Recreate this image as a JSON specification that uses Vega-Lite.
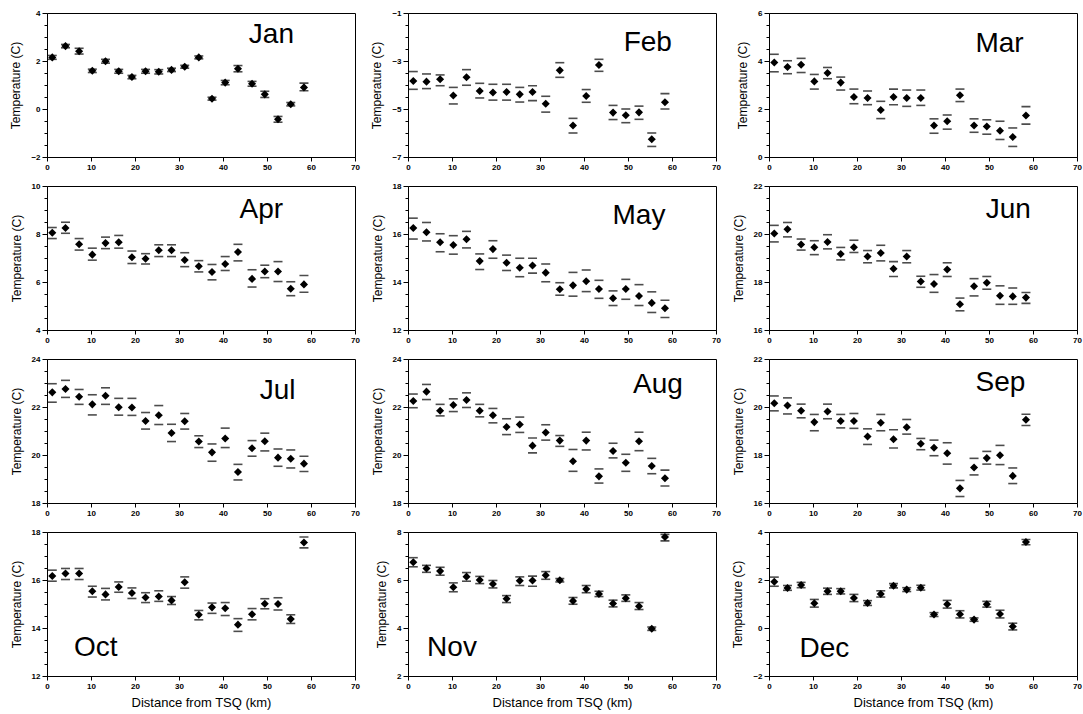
{
"$schema":"https://vega.github.io/schema/vega-lite/v6.json",
"background":"white",
"padding":{"left":9,"top":8,"right":2,"bottom":2},
"datasets":{"obs":[
{"m":"Jan","d":1.2,"t":2.15,"lo":2.07,"hi":2.23},{"m":"Jan","d":4.2,"t":2.62,"lo":2.55,"hi":2.69},{"m":"Jan","d":7.3,"t":2.41,"lo":2.29,"hi":2.53},{"m":"Jan","d":10.3,"t":1.59,"lo":1.52,"hi":1.66},{"m":"Jan","d":13.3,"t":1.99,"lo":1.91,"hi":2.07},{"m":"Jan","d":16.3,"t":1.57,"lo":1.49,"hi":1.65},{"m":"Jan","d":19.3,"t":1.33,"lo":1.26,"hi":1.40},{"m":"Jan","d":22.4,"t":1.57,"lo":1.49,"hi":1.65},{"m":"Jan","d":25.4,"t":1.55,"lo":1.46,"hi":1.64},{"m":"Jan","d":28.3,"t":1.63,"lo":1.56,"hi":1.70},{"m":"Jan","d":31.3,"t":1.76,"lo":1.70,"hi":1.82},{"m":"Jan","d":34.5,"t":2.15,"lo":2.09,"hi":2.21},{"m":"Jan","d":37.5,"t":0.43,"lo":0.37,"hi":0.49},{"m":"Jan","d":40.5,"t":1.10,"lo":1.01,"hi":1.19},{"m":"Jan","d":43.4,"t":1.68,"lo":1.55,"hi":1.81},{"m":"Jan","d":46.6,"t":1.05,"lo":0.95,"hi":1.15},{"m":"Jan","d":49.5,"t":0.61,"lo":0.48,"hi":0.74},{"m":"Jan","d":52.5,"t":-0.43,"lo":-0.55,"hi":-0.31},{"m":"Jan","d":55.4,"t":0.20,"lo":0.13,"hi":0.27},{"m":"Jan","d":58.4,"t":0.90,"lo":0.76,"hi":1.08},
{"m":"Feb","d":1.2,"t":-3.83,"lo":-4.18,"hi":-3.44},{"m":"Feb","d":4.2,"t":-3.86,"lo":-4.15,"hi":-3.54},{"m":"Feb","d":7.3,"t":-3.76,"lo":-4.03,"hi":-3.58},{"m":"Feb","d":10.3,"t":-4.44,"lo":-4.79,"hi":-4.10},{"m":"Feb","d":13.3,"t":-3.68,"lo":-4.01,"hi":-3.36},{"m":"Feb","d":16.3,"t":-4.25,"lo":-4.54,"hi":-3.93},{"m":"Feb","d":19.3,"t":-4.31,"lo":-4.63,"hi":-3.97},{"m":"Feb","d":22.4,"t":-4.29,"lo":-4.63,"hi":-3.97},{"m":"Feb","d":25.4,"t":-4.39,"lo":-4.71,"hi":-4.10},{"m":"Feb","d":28.3,"t":-4.29,"lo":-4.65,"hi":-4.03},{"m":"Feb","d":31.3,"t":-4.78,"lo":-5.13,"hi":-4.47},{"m":"Feb","d":34.5,"t":-3.39,"lo":-3.68,"hi":-3.07},{"m":"Feb","d":37.5,"t":-5.69,"lo":-6.00,"hi":-5.39},{"m":"Feb","d":40.5,"t":-4.46,"lo":-4.72,"hi":-4.19},{"m":"Feb","d":43.4,"t":-3.17,"lo":-3.43,"hi":-2.93},{"m":"Feb","d":46.6,"t":-5.15,"lo":-5.44,"hi":-4.85},{"m":"Feb","d":49.5,"t":-5.26,"lo":-5.57,"hi":-5.00},{"m":"Feb","d":52.5,"t":-5.14,"lo":-5.43,"hi":-4.88},{"m":"Feb","d":55.4,"t":-6.26,"lo":-6.56,"hi":-6.00},{"m":"Feb","d":58.4,"t":-4.72,"lo":-5.00,"hi":-4.36},
{"m":"Mar","d":1.2,"t":3.94,"lo":3.55,"hi":4.28},{"m":"Mar","d":4.2,"t":3.75,"lo":3.47,"hi":4.01},{"m":"Mar","d":7.3,"t":3.84,"lo":3.52,"hi":4.11},{"m":"Mar","d":10.3,"t":3.15,"lo":2.83,"hi":3.44},{"m":"Mar","d":13.3,"t":3.50,"lo":3.26,"hi":3.73},{"m":"Mar","d":16.3,"t":3.10,"lo":2.79,"hi":3.33},{"m":"Mar","d":19.3,"t":2.50,"lo":2.22,"hi":2.83},{"m":"Mar","d":22.4,"t":2.46,"lo":2.18,"hi":2.75},{"m":"Mar","d":25.4,"t":1.96,"lo":1.60,"hi":2.32},{"m":"Mar","d":28.3,"t":2.50,"lo":2.18,"hi":2.83},{"m":"Mar","d":31.3,"t":2.46,"lo":2.11,"hi":2.79},{"m":"Mar","d":34.5,"t":2.46,"lo":2.15,"hi":2.79},{"m":"Mar","d":37.5,"t":1.31,"lo":0.99,"hi":1.59},{"m":"Mar","d":40.5,"t":1.49,"lo":1.16,"hi":1.75},{"m":"Mar","d":43.4,"t":2.57,"lo":2.31,"hi":2.83},{"m":"Mar","d":46.6,"t":1.31,"lo":1.03,"hi":1.59},{"m":"Mar","d":49.5,"t":1.27,"lo":0.95,"hi":1.55},{"m":"Mar","d":52.5,"t":1.09,"lo":0.73,"hi":1.49},{"m":"Mar","d":55.4,"t":0.83,"lo":0.44,"hi":1.21},{"m":"Mar","d":58.4,"t":1.73,"lo":1.37,"hi":2.10},
{"m":"Apr","d":1.2,"t":8.05,"lo":7.81,"hi":8.27},{"m":"Apr","d":4.2,"t":8.25,"lo":8.03,"hi":8.49},{"m":"Apr","d":7.3,"t":7.57,"lo":7.33,"hi":7.81},{"m":"Apr","d":10.3,"t":7.14,"lo":6.91,"hi":7.41},{"m":"Apr","d":13.3,"t":7.62,"lo":7.39,"hi":7.87},{"m":"Apr","d":16.3,"t":7.66,"lo":7.41,"hi":7.94},{"m":"Apr","d":19.3,"t":7.03,"lo":6.77,"hi":7.29},{"m":"Apr","d":22.4,"t":6.97,"lo":6.75,"hi":7.18},{"m":"Apr","d":25.4,"t":7.32,"lo":7.06,"hi":7.55},{"m":"Apr","d":28.3,"t":7.32,"lo":7.06,"hi":7.55},{"m":"Apr","d":31.3,"t":6.92,"lo":6.64,"hi":7.22},{"m":"Apr","d":34.5,"t":6.66,"lo":6.42,"hi":6.89},{"m":"Apr","d":37.5,"t":6.42,"lo":6.09,"hi":6.73},{"m":"Apr","d":40.5,"t":6.75,"lo":6.48,"hi":7.06},{"m":"Apr","d":43.4,"t":7.25,"lo":6.88,"hi":7.57},{"m":"Apr","d":46.6,"t":6.13,"lo":5.79,"hi":6.51},{"m":"Apr","d":49.5,"t":6.44,"lo":6.18,"hi":6.70},{"m":"Apr","d":52.5,"t":6.44,"lo":6.02,"hi":6.85},{"m":"Apr","d":55.4,"t":5.72,"lo":5.43,"hi":6.01},{"m":"Apr","d":58.4,"t":5.90,"lo":5.57,"hi":6.27},
{"m":"May","d":1.2,"t":16.25,"lo":15.79,"hi":16.66},{"m":"May","d":4.2,"t":16.07,"lo":15.71,"hi":16.48},{"m":"May","d":7.3,"t":15.66,"lo":15.26,"hi":16.01},{"m":"May","d":10.3,"t":15.54,"lo":15.16,"hi":15.93},{"m":"May","d":13.3,"t":15.78,"lo":15.42,"hi":16.11},{"m":"May","d":16.3,"t":14.87,"lo":14.52,"hi":15.17},{"m":"May","d":19.3,"t":15.37,"lo":14.99,"hi":15.72},{"m":"May","d":22.4,"t":14.80,"lo":14.48,"hi":15.12},{"m":"May","d":25.4,"t":14.59,"lo":14.22,"hi":14.99},{"m":"May","d":28.3,"t":14.69,"lo":14.37,"hi":14.99},{"m":"May","d":31.3,"t":14.39,"lo":14.01,"hi":14.75},{"m":"May","d":34.5,"t":13.70,"lo":13.45,"hi":13.97},{"m":"May","d":37.5,"t":13.86,"lo":13.41,"hi":14.40},{"m":"May","d":40.5,"t":14.03,"lo":13.60,"hi":14.50},{"m":"May","d":43.4,"t":13.71,"lo":13.32,"hi":14.07},{"m":"May","d":46.6,"t":13.32,"lo":13.02,"hi":13.63},{"m":"May","d":49.5,"t":13.71,"lo":13.28,"hi":14.11},{"m":"May","d":52.5,"t":13.42,"lo":13.02,"hi":13.89},{"m":"May","d":55.4,"t":13.13,"lo":12.73,"hi":13.59},{"m":"May","d":58.4,"t":12.91,"lo":12.52,"hi":13.24},
{"m":"Jun","d":1.2,"t":20.02,"lo":19.67,"hi":20.36},{"m":"Jun","d":4.2,"t":20.20,"lo":19.88,"hi":20.48},{"m":"Jun","d":7.3,"t":19.56,"lo":19.33,"hi":19.79},{"m":"Jun","d":10.3,"t":19.45,"lo":19.14,"hi":19.72},{"m":"Jun","d":13.3,"t":19.67,"lo":19.38,"hi":19.97},{"m":"Jun","d":16.3,"t":19.17,"lo":18.92,"hi":19.44},{"m":"Jun","d":19.3,"t":19.45,"lo":19.23,"hi":19.74},{"m":"Jun","d":22.4,"t":19.06,"lo":18.80,"hi":19.31},{"m":"Jun","d":25.4,"t":19.21,"lo":18.88,"hi":19.53},{"m":"Jun","d":28.3,"t":18.55,"lo":18.23,"hi":18.85},{"m":"Jun","d":31.3,"t":19.06,"lo":18.80,"hi":19.31},{"m":"Jun","d":34.5,"t":18.02,"lo":17.78,"hi":18.24},{"m":"Jun","d":37.5,"t":17.92,"lo":17.57,"hi":18.31},{"m":"Jun","d":40.5,"t":18.52,"lo":18.23,"hi":18.80},{"m":"Jun","d":43.4,"t":17.07,"lo":16.80,"hi":17.33},{"m":"Jun","d":46.6,"t":17.82,"lo":17.42,"hi":18.14},{"m":"Jun","d":49.5,"t":17.97,"lo":17.70,"hi":18.23},{"m":"Jun","d":52.5,"t":17.43,"lo":17.07,"hi":17.84},{"m":"Jun","d":55.4,"t":17.40,"lo":17.07,"hi":17.75},{"m":"Jun","d":58.4,"t":17.35,"lo":17.11,"hi":17.56},
{"m":"Jul","d":1.2,"t":22.61,"lo":22.20,"hi":22.97},{"m":"Jul","d":4.2,"t":22.75,"lo":22.40,"hi":23.11},{"m":"Jul","d":7.3,"t":22.43,"lo":22.11,"hi":22.73},{"m":"Jul","d":10.3,"t":22.11,"lo":21.67,"hi":22.51},{"m":"Jul","d":13.3,"t":22.47,"lo":22.11,"hi":22.80},{"m":"Jul","d":16.3,"t":21.99,"lo":21.66,"hi":22.36},{"m":"Jul","d":19.3,"t":21.98,"lo":21.65,"hi":22.36},{"m":"Jul","d":22.4,"t":21.42,"lo":21.08,"hi":21.77},{"m":"Jul","d":25.4,"t":21.66,"lo":21.27,"hi":22.06},{"m":"Jul","d":28.3,"t":20.92,"lo":20.56,"hi":21.28},{"m":"Jul","d":31.3,"t":21.41,"lo":21.08,"hi":21.73},{"m":"Jul","d":34.5,"t":20.56,"lo":20.31,"hi":20.80},{"m":"Jul","d":37.5,"t":20.11,"lo":19.74,"hi":20.46},{"m":"Jul","d":40.5,"t":20.69,"lo":20.31,"hi":21.12},{"m":"Jul","d":43.4,"t":19.29,"lo":18.96,"hi":19.61},{"m":"Jul","d":46.6,"t":20.28,"lo":19.95,"hi":20.60},{"m":"Jul","d":49.5,"t":20.57,"lo":20.17,"hi":20.91},{"m":"Jul","d":52.5,"t":19.89,"lo":19.53,"hi":20.25},{"m":"Jul","d":55.4,"t":19.84,"lo":19.46,"hi":20.21},{"m":"Jul","d":58.4,"t":19.64,"lo":19.31,"hi":19.95},
{"m":"Aug","d":1.2,"t":22.25,"lo":21.97,"hi":22.54},{"m":"Aug","d":4.2,"t":22.64,"lo":22.31,"hi":22.94},{"m":"Aug","d":7.3,"t":21.84,"lo":21.63,"hi":22.11},{"m":"Aug","d":10.3,"t":22.08,"lo":21.81,"hi":22.34},{"m":"Aug","d":13.3,"t":22.29,"lo":21.98,"hi":22.59},{"m":"Aug","d":16.3,"t":21.84,"lo":21.59,"hi":22.11},{"m":"Aug","d":19.3,"t":21.66,"lo":21.34,"hi":21.94},{"m":"Aug","d":22.4,"t":21.17,"lo":20.85,"hi":21.51},{"m":"Aug","d":25.4,"t":21.27,"lo":20.94,"hi":21.58},{"m":"Aug","d":28.3,"t":20.39,"lo":20.09,"hi":20.71},{"m":"Aug","d":31.3,"t":20.94,"lo":20.62,"hi":21.26},{"m":"Aug","d":34.5,"t":20.60,"lo":20.36,"hi":20.81},{"m":"Aug","d":37.5,"t":19.74,"lo":19.32,"hi":20.23},{"m":"Aug","d":40.5,"t":20.60,"lo":20.21,"hi":20.95},{"m":"Aug","d":43.4,"t":19.11,"lo":18.83,"hi":19.42},{"m":"Aug","d":46.6,"t":20.17,"lo":19.88,"hi":20.49},{"m":"Aug","d":49.5,"t":19.68,"lo":19.32,"hi":20.03},{"m":"Aug","d":52.5,"t":20.57,"lo":20.18,"hi":20.95},{"m":"Aug","d":55.4,"t":19.54,"lo":19.22,"hi":19.86},{"m":"Aug","d":58.4,"t":19.03,"lo":18.71,"hi":19.37},
{"m":"Sep","d":1.2,"t":20.16,"lo":19.84,"hi":20.46},{"m":"Sep","d":4.2,"t":20.06,"lo":19.71,"hi":20.38},{"m":"Sep","d":7.3,"t":19.84,"lo":19.55,"hi":20.12},{"m":"Sep","d":10.3,"t":19.37,"lo":19.01,"hi":19.69},{"m":"Sep","d":13.3,"t":19.81,"lo":19.51,"hi":20.12},{"m":"Sep","d":16.3,"t":19.42,"lo":19.13,"hi":19.69},{"m":"Sep","d":19.3,"t":19.42,"lo":19.11,"hi":19.73},{"m":"Sep","d":22.4,"t":18.77,"lo":18.44,"hi":19.09},{"m":"Sep","d":25.4,"t":19.34,"lo":19.01,"hi":19.69},{"m":"Sep","d":28.3,"t":18.66,"lo":18.29,"hi":19.05},{"m":"Sep","d":31.3,"t":19.16,"lo":18.87,"hi":19.48},{"m":"Sep","d":34.5,"t":18.47,"lo":18.22,"hi":18.69},{"m":"Sep","d":37.5,"t":18.30,"lo":17.97,"hi":18.62},{"m":"Sep","d":40.5,"t":18.07,"lo":17.62,"hi":18.51},{"m":"Sep","d":43.4,"t":16.61,"lo":16.27,"hi":16.94},{"m":"Sep","d":46.6,"t":17.48,"lo":17.17,"hi":17.86},{"m":"Sep","d":49.5,"t":17.87,"lo":17.62,"hi":18.15},{"m":"Sep","d":52.5,"t":17.99,"lo":17.60,"hi":18.40},{"m":"Sep","d":55.4,"t":17.13,"lo":16.81,"hi":17.46},{"m":"Sep","d":58.4,"t":19.47,"lo":19.23,"hi":19.70},
{"m":"Oct","d":1.2,"t":16.17,"lo":15.95,"hi":16.41},{"m":"Oct","d":4.2,"t":16.27,"lo":16.02,"hi":16.48},{"m":"Oct","d":7.3,"t":16.27,"lo":16.02,"hi":16.48},{"m":"Oct","d":10.3,"t":15.53,"lo":15.29,"hi":15.74},{"m":"Oct","d":13.3,"t":15.40,"lo":15.17,"hi":15.65},{"m":"Oct","d":16.3,"t":15.71,"lo":15.49,"hi":15.92},{"m":"Oct","d":19.3,"t":15.46,"lo":15.23,"hi":15.67},{"m":"Oct","d":22.4,"t":15.27,"lo":15.06,"hi":15.47},{"m":"Oct","d":25.4,"t":15.31,"lo":15.11,"hi":15.55},{"m":"Oct","d":28.3,"t":15.15,"lo":14.98,"hi":15.31},{"m":"Oct","d":31.3,"t":15.91,"lo":15.66,"hi":16.13},{"m":"Oct","d":34.5,"t":14.55,"lo":14.34,"hi":14.73},{"m":"Oct","d":37.5,"t":14.86,"lo":14.61,"hi":15.04},{"m":"Oct","d":40.5,"t":14.82,"lo":14.52,"hi":15.06},{"m":"Oct","d":43.4,"t":14.14,"lo":13.86,"hi":14.39},{"m":"Oct","d":46.6,"t":14.57,"lo":14.34,"hi":14.81},{"m":"Oct","d":49.5,"t":15.01,"lo":14.80,"hi":15.22},{"m":"Oct","d":52.5,"t":15.00,"lo":14.75,"hi":15.26},{"m":"Oct","d":55.4,"t":14.37,"lo":14.19,"hi":14.55},{"m":"Oct","d":58.4,"t":17.56,"lo":17.34,"hi":17.79},
{"m":"Nov","d":1.2,"t":6.74,"lo":6.55,"hi":6.93},{"m":"Nov","d":4.2,"t":6.48,"lo":6.32,"hi":6.61},{"m":"Nov","d":7.3,"t":6.37,"lo":6.20,"hi":6.53},{"m":"Nov","d":10.3,"t":5.70,"lo":5.51,"hi":5.88},{"m":"Nov","d":13.3,"t":6.14,"lo":5.95,"hi":6.31},{"m":"Nov","d":16.3,"t":6.00,"lo":5.85,"hi":6.15},{"m":"Nov","d":19.3,"t":5.83,"lo":5.67,"hi":5.98},{"m":"Nov","d":22.4,"t":5.22,"lo":5.06,"hi":5.35},{"m":"Nov","d":25.4,"t":5.97,"lo":5.77,"hi":6.13},{"m":"Nov","d":28.3,"t":5.98,"lo":5.74,"hi":6.16},{"m":"Nov","d":31.3,"t":6.20,"lo":6.03,"hi":6.35},{"m":"Nov","d":34.5,"t":5.99,"lo":5.92,"hi":6.06},{"m":"Nov","d":37.5,"t":5.13,"lo":4.99,"hi":5.27},{"m":"Nov","d":40.5,"t":5.62,"lo":5.47,"hi":5.77},{"m":"Nov","d":43.4,"t":5.42,"lo":5.31,"hi":5.53},{"m":"Nov","d":46.6,"t":5.02,"lo":4.88,"hi":5.16},{"m":"Nov","d":49.5,"t":5.24,"lo":5.11,"hi":5.38},{"m":"Nov","d":52.5,"t":4.91,"lo":4.77,"hi":5.06},{"m":"Nov","d":55.4,"t":3.97,"lo":3.90,"hi":4.04},{"m":"Nov","d":58.4,"t":7.79,"lo":7.63,"hi":7.90},
{"m":"Dec","d":1.2,"t":1.93,"lo":1.74,"hi":2.12},{"m":"Dec","d":4.2,"t":1.67,"lo":1.57,"hi":1.77},{"m":"Dec","d":7.3,"t":1.79,"lo":1.68,"hi":1.90},{"m":"Dec","d":10.3,"t":1.03,"lo":0.87,"hi":1.19},{"m":"Dec","d":13.3,"t":1.53,"lo":1.40,"hi":1.66},{"m":"Dec","d":16.3,"t":1.53,"lo":1.42,"hi":1.64},{"m":"Dec","d":19.3,"t":1.25,"lo":1.10,"hi":1.40},{"m":"Dec","d":22.4,"t":1.04,"lo":0.94,"hi":1.14},{"m":"Dec","d":25.4,"t":1.42,"lo":1.29,"hi":1.55},{"m":"Dec","d":28.3,"t":1.76,"lo":1.67,"hi":1.85},{"m":"Dec","d":31.3,"t":1.60,"lo":1.52,"hi":1.68},{"m":"Dec","d":34.5,"t":1.68,"lo":1.58,"hi":1.78},{"m":"Dec","d":37.5,"t":0.56,"lo":0.48,"hi":0.64},{"m":"Dec","d":40.5,"t":0.99,"lo":0.83,"hi":1.15},{"m":"Dec","d":43.4,"t":0.57,"lo":0.42,"hi":0.72},{"m":"Dec","d":46.6,"t":0.35,"lo":0.28,"hi":0.42},{"m":"Dec","d":49.5,"t":0.99,"lo":0.87,"hi":1.11},{"m":"Dec","d":52.5,"t":0.58,"lo":0.42,"hi":0.74},{"m":"Dec","d":55.4,"t":0.06,"lo":-0.08,"hi":0.20},{"m":"Dec","d":58.4,"t":3.58,"lo":3.47,"hi":3.69}
]},
"columns":3,
"spacing":{"row":9,"column":10},
"concat":[
{"width":308,"height":144,"data":{"name":"obs"},
 "layer":[
  {"transform":[{"filter":"datum.m === 'Jan'"}],"mark":{"type":"tick","orient":"horizontal","color":"#000","size":9,"thickness":1.6},"encoding":{"x":{"field":"d","type":"quantitative","scale":{"domain":[0,70]},"axis":{"title":null}},"y":{"field":"lo","type":"quantitative","title":"Temperature (C)","scale":{"domain":[-2,4]},"axis":{"labelExpr":"datum.value % 2 === 0 ? format(datum.value, 'd') : ''","tickSize":{"condition":{"test":"datum.value % 2 === 0","value":5},"value":3}}}}},
  {"transform":[{"filter":"datum.m === 'Jan'"}],"mark":{"type":"tick","orient":"horizontal","color":"#000","size":9,"thickness":1.6},"encoding":{"x":{"field":"d","type":"quantitative"},"y":{"field":"hi","type":"quantitative","title":"Temperature (C)"}}},
  {"transform":[{"filter":"datum.m === 'Jan'"}],"mark":{"type":"point","filled":true,"shape":"diamond","size":65,"color":"#000","opacity":1},"encoding":{"x":{"field":"d","type":"quantitative"},"y":{"field":"t","type":"quantitative","title":"Temperature (C)"}}},
  {"data":{"values":[{"m":"Jan"}]},"mark":{"type":"text","fontSize":28,"align":"center","color":"#000"},"encoding":{"x":{"datum":51},"y":{"datum":3.1},"text":{"field":"m","type":"nominal"}}}
 ]},
{"width":308,"height":144,"data":{"name":"obs"},
 "layer":[
  {"transform":[{"filter":"datum.m === 'Feb'"}],"mark":{"type":"tick","orient":"horizontal","color":"#000","size":9,"thickness":1.6},"encoding":{"x":{"field":"d","type":"quantitative","scale":{"domain":[0,70]},"axis":{"title":null}},"y":{"field":"lo","type":"quantitative","title":"Temperature (C)","scale":{"domain":[-7,-1]},"axis":{"labelExpr":"abs(datum.value % 2) === 1 ? format(datum.value, 'd') : ''","tickSize":{"condition":{"test":"abs(datum.value % 2) === 1","value":5},"value":3}}}}},
  {"transform":[{"filter":"datum.m === 'Feb'"}],"mark":{"type":"tick","orient":"horizontal","color":"#000","size":9,"thickness":1.6},"encoding":{"x":{"field":"d","type":"quantitative"},"y":{"field":"hi","type":"quantitative","title":"Temperature (C)"}}},
  {"transform":[{"filter":"datum.m === 'Feb'"}],"mark":{"type":"point","filled":true,"shape":"diamond","size":65,"color":"#000","opacity":1},"encoding":{"x":{"field":"d","type":"quantitative"},"y":{"field":"t","type":"quantitative","title":"Temperature (C)"}}},
  {"data":{"values":[{"m":"Feb"}]},"mark":{"type":"text","fontSize":28,"align":"center","color":"#000"},"encoding":{"x":{"datum":54.5},"y":{"datum":-2.25},"text":{"field":"m","type":"nominal"}}}
 ]},
{"width":308,"height":144,"data":{"name":"obs"},
 "layer":[
  {"transform":[{"filter":"datum.m === 'Mar'"}],"mark":{"type":"tick","orient":"horizontal","color":"#000","size":9,"thickness":1.6},"encoding":{"x":{"field":"d","type":"quantitative","scale":{"domain":[0,70]},"axis":{"title":null}},"y":{"field":"lo","type":"quantitative","title":"Temperature (C)","scale":{"domain":[0,6]},"axis":{"labelExpr":"datum.value % 2 === 0 ? format(datum.value, 'd') : ''","tickSize":{"condition":{"test":"datum.value % 2 === 0","value":5},"value":3}}}}},
  {"transform":[{"filter":"datum.m === 'Mar'"}],"mark":{"type":"tick","orient":"horizontal","color":"#000","size":9,"thickness":1.6},"encoding":{"x":{"field":"d","type":"quantitative"},"y":{"field":"hi","type":"quantitative","title":"Temperature (C)"}}},
  {"transform":[{"filter":"datum.m === 'Mar'"}],"mark":{"type":"point","filled":true,"shape":"diamond","size":65,"color":"#000","opacity":1},"encoding":{"x":{"field":"d","type":"quantitative"},"y":{"field":"t","type":"quantitative","title":"Temperature (C)"}}},
  {"data":{"values":[{"m":"Mar"}]},"mark":{"type":"text","fontSize":28,"align":"center","color":"#000"},"encoding":{"x":{"datum":52.4},"y":{"datum":4.7},"text":{"field":"m","type":"nominal"}}}
 ]},
{"width":308,"height":144,"data":{"name":"obs"},
 "layer":[
  {"transform":[{"filter":"datum.m === 'Apr'"}],"mark":{"type":"tick","orient":"horizontal","color":"#000","size":9,"thickness":1.6},"encoding":{"x":{"field":"d","type":"quantitative","scale":{"domain":[0,70]},"axis":{"title":null}},"y":{"field":"lo","type":"quantitative","title":"Temperature (C)","scale":{"domain":[4,10]},"axis":{"labelExpr":"datum.value % 2 === 0 ? format(datum.value, 'd') : ''","tickSize":{"condition":{"test":"datum.value % 2 === 0","value":5},"value":3}}}}},
  {"transform":[{"filter":"datum.m === 'Apr'"}],"mark":{"type":"tick","orient":"horizontal","color":"#000","size":9,"thickness":1.6},"encoding":{"x":{"field":"d","type":"quantitative"},"y":{"field":"hi","type":"quantitative","title":"Temperature (C)"}}},
  {"transform":[{"filter":"datum.m === 'Apr'"}],"mark":{"type":"point","filled":true,"shape":"diamond","size":65,"color":"#000","opacity":1},"encoding":{"x":{"field":"d","type":"quantitative"},"y":{"field":"t","type":"quantitative","title":"Temperature (C)"}}},
  {"data":{"values":[{"m":"Apr"}]},"mark":{"type":"text","fontSize":28,"align":"center","color":"#000"},"encoding":{"x":{"datum":48.7},"y":{"datum":9.0},"text":{"field":"m","type":"nominal"}}}
 ]},
{"width":308,"height":144,"data":{"name":"obs"},
 "layer":[
  {"transform":[{"filter":"datum.m === 'May'"}],"mark":{"type":"tick","orient":"horizontal","color":"#000","size":9,"thickness":1.6},"encoding":{"x":{"field":"d","type":"quantitative","scale":{"domain":[0,70]},"axis":{"title":null}},"y":{"field":"lo","type":"quantitative","title":"Temperature (C)","scale":{"domain":[12,18]},"axis":{"labelExpr":"datum.value % 2 === 0 ? format(datum.value, 'd') : ''","tickSize":{"condition":{"test":"datum.value % 2 === 0","value":5},"value":3}}}}},
  {"transform":[{"filter":"datum.m === 'May'"}],"mark":{"type":"tick","orient":"horizontal","color":"#000","size":9,"thickness":1.6},"encoding":{"x":{"field":"d","type":"quantitative"},"y":{"field":"hi","type":"quantitative","title":"Temperature (C)"}}},
  {"transform":[{"filter":"datum.m === 'May'"}],"mark":{"type":"point","filled":true,"shape":"diamond","size":65,"color":"#000","opacity":1},"encoding":{"x":{"field":"d","type":"quantitative"},"y":{"field":"t","type":"quantitative","title":"Temperature (C)"}}},
  {"data":{"values":[{"m":"May"}]},"mark":{"type":"text","fontSize":28,"align":"center","color":"#000"},"encoding":{"x":{"datum":52.5},"y":{"datum":16.73},"text":{"field":"m","type":"nominal"}}}
 ]},
{"width":308,"height":144,"data":{"name":"obs"},
 "layer":[
  {"transform":[{"filter":"datum.m === 'Jun'"}],"mark":{"type":"tick","orient":"horizontal","color":"#000","size":9,"thickness":1.6},"encoding":{"x":{"field":"d","type":"quantitative","scale":{"domain":[0,70]},"axis":{"title":null}},"y":{"field":"lo","type":"quantitative","title":"Temperature (C)","scale":{"domain":[16,22]},"axis":{"labelExpr":"datum.value % 2 === 0 ? format(datum.value, 'd') : ''","tickSize":{"condition":{"test":"datum.value % 2 === 0","value":5},"value":3}}}}},
  {"transform":[{"filter":"datum.m === 'Jun'"}],"mark":{"type":"tick","orient":"horizontal","color":"#000","size":9,"thickness":1.6},"encoding":{"x":{"field":"d","type":"quantitative"},"y":{"field":"hi","type":"quantitative","title":"Temperature (C)"}}},
  {"transform":[{"filter":"datum.m === 'Jun'"}],"mark":{"type":"point","filled":true,"shape":"diamond","size":65,"color":"#000","opacity":1},"encoding":{"x":{"field":"d","type":"quantitative"},"y":{"field":"t","type":"quantitative","title":"Temperature (C)"}}},
  {"data":{"values":[{"m":"Jun"}]},"mark":{"type":"text","fontSize":28,"align":"center","color":"#000"},"encoding":{"x":{"datum":54.4},"y":{"datum":21.0},"text":{"field":"m","type":"nominal"}}}
 ]},
{"width":308,"height":144,"data":{"name":"obs"},
 "layer":[
  {"transform":[{"filter":"datum.m === 'Jul'"}],"mark":{"type":"tick","orient":"horizontal","color":"#000","size":9,"thickness":1.6},"encoding":{"x":{"field":"d","type":"quantitative","scale":{"domain":[0,70]},"axis":{"title":null}},"y":{"field":"lo","type":"quantitative","title":"Temperature (C)","scale":{"domain":[18,24]},"axis":{"labelExpr":"datum.value % 2 === 0 ? format(datum.value, 'd') : ''","tickSize":{"condition":{"test":"datum.value % 2 === 0","value":5},"value":3}}}}},
  {"transform":[{"filter":"datum.m === 'Jul'"}],"mark":{"type":"tick","orient":"horizontal","color":"#000","size":9,"thickness":1.6},"encoding":{"x":{"field":"d","type":"quantitative"},"y":{"field":"hi","type":"quantitative","title":"Temperature (C)"}}},
  {"transform":[{"filter":"datum.m === 'Jul'"}],"mark":{"type":"point","filled":true,"shape":"diamond","size":65,"color":"#000","opacity":1},"encoding":{"x":{"field":"d","type":"quantitative"},"y":{"field":"t","type":"quantitative","title":"Temperature (C)"}}},
  {"data":{"values":[{"m":"Jul"}]},"mark":{"type":"text","fontSize":28,"align":"center","color":"#000"},"encoding":{"x":{"datum":52.4},"y":{"datum":22.65},"text":{"field":"m","type":"nominal"}}}
 ]},
{"width":308,"height":144,"data":{"name":"obs"},
 "layer":[
  {"transform":[{"filter":"datum.m === 'Aug'"}],"mark":{"type":"tick","orient":"horizontal","color":"#000","size":9,"thickness":1.6},"encoding":{"x":{"field":"d","type":"quantitative","scale":{"domain":[0,70]},"axis":{"title":null}},"y":{"field":"lo","type":"quantitative","title":"Temperature (C)","scale":{"domain":[18,24]},"axis":{"labelExpr":"datum.value % 2 === 0 ? format(datum.value, 'd') : ''","tickSize":{"condition":{"test":"datum.value % 2 === 0","value":5},"value":3}}}}},
  {"transform":[{"filter":"datum.m === 'Aug'"}],"mark":{"type":"tick","orient":"horizontal","color":"#000","size":9,"thickness":1.6},"encoding":{"x":{"field":"d","type":"quantitative"},"y":{"field":"hi","type":"quantitative","title":"Temperature (C)"}}},
  {"transform":[{"filter":"datum.m === 'Aug'"}],"mark":{"type":"point","filled":true,"shape":"diamond","size":65,"color":"#000","opacity":1},"encoding":{"x":{"field":"d","type":"quantitative"},"y":{"field":"t","type":"quantitative","title":"Temperature (C)"}}},
  {"data":{"values":[{"m":"Aug"}]},"mark":{"type":"text","fontSize":28,"align":"center","color":"#000"},"encoding":{"x":{"datum":56.8},"y":{"datum":22.9},"text":{"field":"m","type":"nominal"}}}
 ]},
{"width":308,"height":144,"data":{"name":"obs"},
 "layer":[
  {"transform":[{"filter":"datum.m === 'Sep'"}],"mark":{"type":"tick","orient":"horizontal","color":"#000","size":9,"thickness":1.6},"encoding":{"x":{"field":"d","type":"quantitative","scale":{"domain":[0,70]},"axis":{"title":null}},"y":{"field":"lo","type":"quantitative","title":"Temperature (C)","scale":{"domain":[16,22]},"axis":{"labelExpr":"datum.value % 2 === 0 ? format(datum.value, 'd') : ''","tickSize":{"condition":{"test":"datum.value % 2 === 0","value":5},"value":3}}}}},
  {"transform":[{"filter":"datum.m === 'Sep'"}],"mark":{"type":"tick","orient":"horizontal","color":"#000","size":9,"thickness":1.6},"encoding":{"x":{"field":"d","type":"quantitative"},"y":{"field":"hi","type":"quantitative","title":"Temperature (C)"}}},
  {"transform":[{"filter":"datum.m === 'Sep'"}],"mark":{"type":"point","filled":true,"shape":"diamond","size":65,"color":"#000","opacity":1},"encoding":{"x":{"field":"d","type":"quantitative"},"y":{"field":"t","type":"quantitative","title":"Temperature (C)"}}},
  {"data":{"values":[{"m":"Sep"}]},"mark":{"type":"text","fontSize":28,"align":"center","color":"#000"},"encoding":{"x":{"datum":52.6},"y":{"datum":21.0},"text":{"field":"m","type":"nominal"}}}
 ]},
{"width":308,"height":144,"data":{"name":"obs"},
 "layer":[
  {"transform":[{"filter":"datum.m === 'Oct'"}],"mark":{"type":"tick","orient":"horizontal","color":"#000","size":9,"thickness":1.6},"encoding":{"x":{"field":"d","type":"quantitative","scale":{"domain":[0,70]},"axis":{"title":"Distance from TSQ  (km)"}},"y":{"field":"lo","type":"quantitative","title":"Temperature (C)","scale":{"domain":[12,18]},"axis":{"labelExpr":"datum.value % 2 === 0 ? format(datum.value, 'd') : ''","tickSize":{"condition":{"test":"datum.value % 2 === 0","value":5},"value":3}}}}},
  {"transform":[{"filter":"datum.m === 'Oct'"}],"mark":{"type":"tick","orient":"horizontal","color":"#000","size":9,"thickness":1.6},"encoding":{"x":{"field":"d","type":"quantitative"},"y":{"field":"hi","type":"quantitative","title":"Temperature (C)"}}},
  {"transform":[{"filter":"datum.m === 'Oct'"}],"mark":{"type":"point","filled":true,"shape":"diamond","size":65,"color":"#000","opacity":1},"encoding":{"x":{"field":"d","type":"quantitative"},"y":{"field":"t","type":"quantitative","title":"Temperature (C)"}}},
  {"data":{"values":[{"m":"Oct"}]},"mark":{"type":"text","fontSize":28,"align":"center","color":"#000"},"encoding":{"x":{"datum":11.1},"y":{"datum":13.17},"text":{"field":"m","type":"nominal"}}}
 ]},
{"width":308,"height":144,"data":{"name":"obs"},
 "layer":[
  {"transform":[{"filter":"datum.m === 'Nov'"}],"mark":{"type":"tick","orient":"horizontal","color":"#000","size":9,"thickness":1.6},"encoding":{"x":{"field":"d","type":"quantitative","scale":{"domain":[0,70]},"axis":{"title":"Distance from TSQ  (km)"}},"y":{"field":"lo","type":"quantitative","title":"Temperature (C)","scale":{"domain":[2,8]},"axis":{"labelExpr":"datum.value % 2 === 0 ? format(datum.value, 'd') : ''","tickSize":{"condition":{"test":"datum.value % 2 === 0","value":5},"value":3}}}}},
  {"transform":[{"filter":"datum.m === 'Nov'"}],"mark":{"type":"tick","orient":"horizontal","color":"#000","size":9,"thickness":1.6},"encoding":{"x":{"field":"d","type":"quantitative"},"y":{"field":"hi","type":"quantitative","title":"Temperature (C)"}}},
  {"transform":[{"filter":"datum.m === 'Nov'"}],"mark":{"type":"point","filled":true,"shape":"diamond","size":65,"color":"#000","opacity":1},"encoding":{"x":{"field":"d","type":"quantitative"},"y":{"field":"t","type":"quantitative","title":"Temperature (C)"}}},
  {"data":{"values":[{"m":"Nov"}]},"mark":{"type":"text","fontSize":28,"align":"center","color":"#000"},"encoding":{"x":{"datum":10},"y":{"datum":3.17},"text":{"field":"m","type":"nominal"}}}
 ]},
{"width":308,"height":144,"data":{"name":"obs"},
 "layer":[
  {"transform":[{"filter":"datum.m === 'Dec'"}],"mark":{"type":"tick","orient":"horizontal","color":"#000","size":9,"thickness":1.6},"encoding":{"x":{"field":"d","type":"quantitative","scale":{"domain":[0,70]},"axis":{"title":"Distance from TSQ  (km)"}},"y":{"field":"lo","type":"quantitative","title":"Temperature (C)","scale":{"domain":[-2,4]},"axis":{"labelExpr":"datum.value % 2 === 0 ? format(datum.value, 'd') : ''","tickSize":{"condition":{"test":"datum.value % 2 === 0","value":5},"value":3}}}}},
  {"transform":[{"filter":"datum.m === 'Dec'"}],"mark":{"type":"tick","orient":"horizontal","color":"#000","size":9,"thickness":1.6},"encoding":{"x":{"field":"d","type":"quantitative"},"y":{"field":"hi","type":"quantitative","title":"Temperature (C)"}}},
  {"transform":[{"filter":"datum.m === 'Dec'"}],"mark":{"type":"point","filled":true,"shape":"diamond","size":65,"color":"#000","opacity":1},"encoding":{"x":{"field":"d","type":"quantitative"},"y":{"field":"t","type":"quantitative","title":"Temperature (C)"}}},
  {"data":{"values":[{"m":"Dec"}]},"mark":{"type":"text","fontSize":28,"align":"center","color":"#000"},"encoding":{"x":{"datum":12.6},"y":{"datum":-0.86},"text":{"field":"m","type":"nominal"}}}
 ]}
],
"config":{
 "view":{"stroke":"#000","strokeWidth":1},
 "text":{"font":"Liberation Sans"},
 "axis":{"grid":false,"domainColor":"#000","tickColor":"#000","labelFont":"Liberation Sans","labelFontSize":8,"labelFontWeight":"bold","labelColor":"#000","titleFont":"Liberation Sans","titleFontWeight":"normal","titleColor":"#000"},
 "axisX":{"values":[0,10,20,30,40,50,60,70],"tickSize":4,"labelPadding":2,"titleFontSize":13,"titlePadding":6,"labelFlush":false},
 "axisY":{"tickCount":12,"labelPadding":2,"titleFontSize":12,"titlePadding":8,"labelFlush":false}
}
}
